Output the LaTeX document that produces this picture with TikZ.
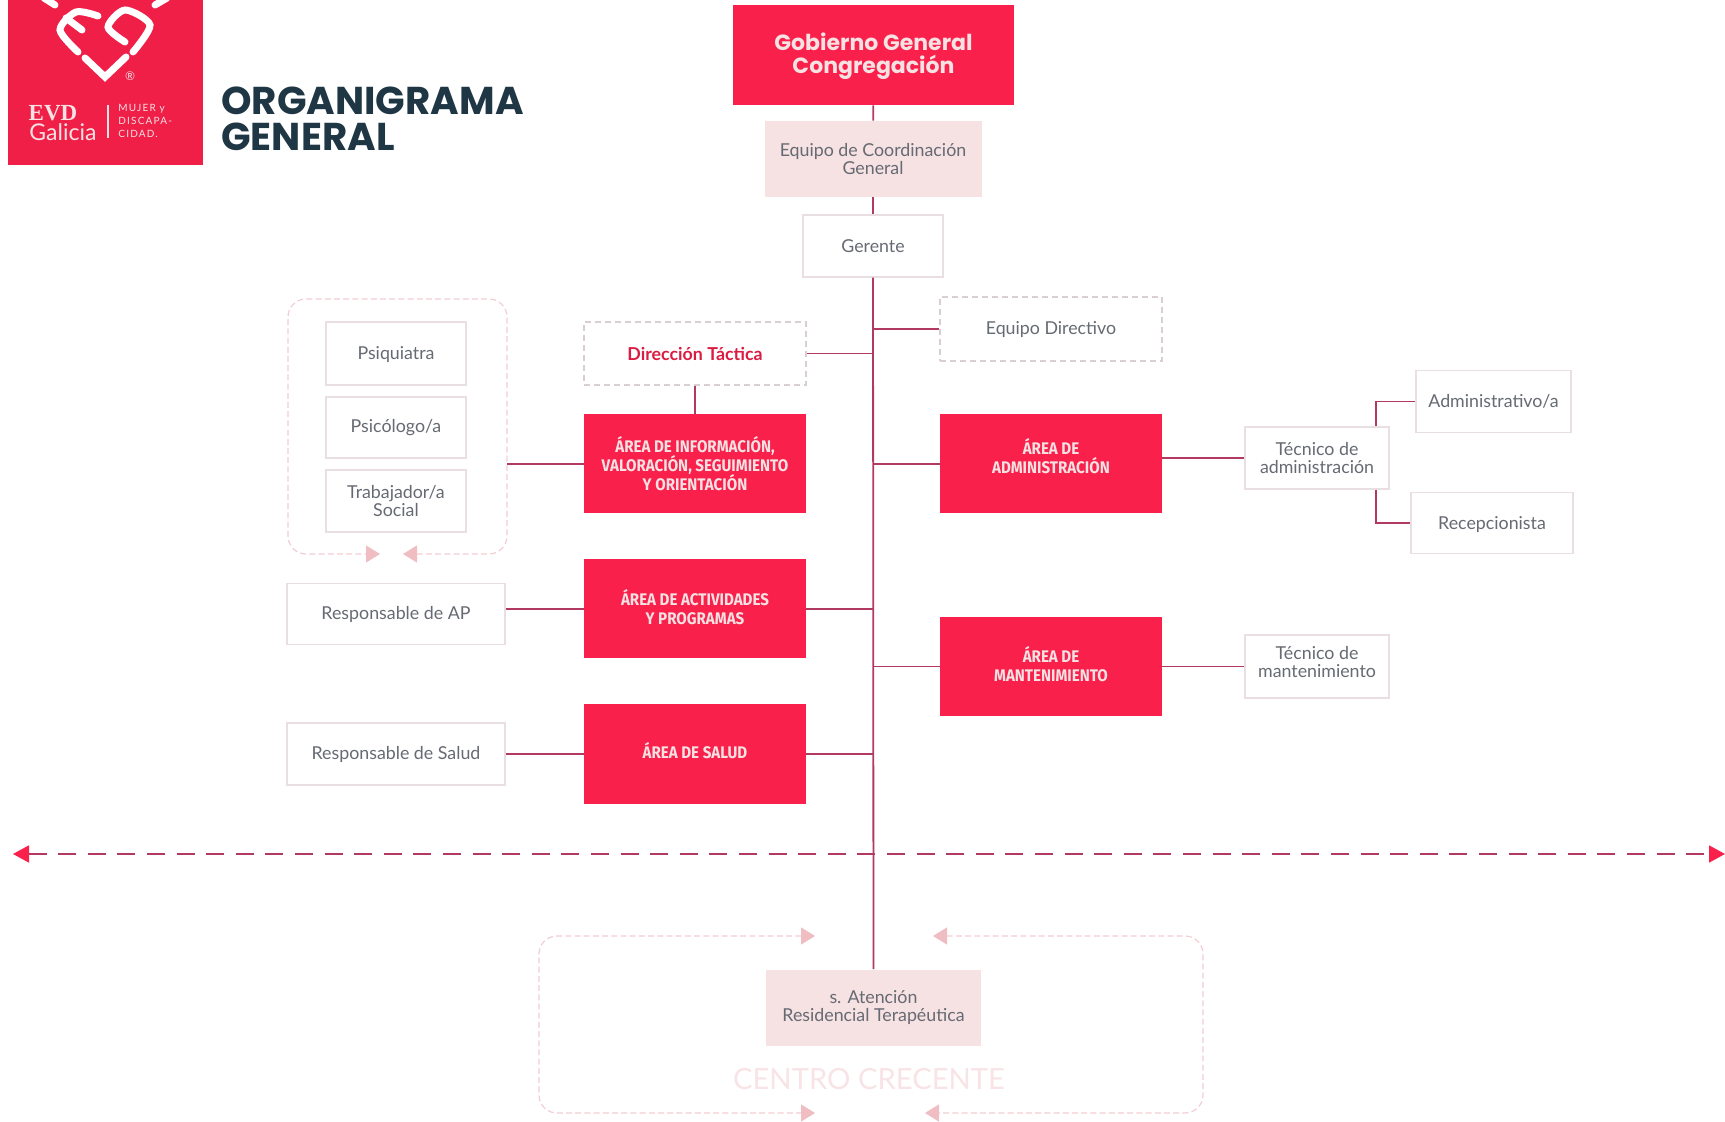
\documentclass[tikz,border=0pt]{standalone}
\usepackage{fontspec}
\setmainfont{Lato}
\newfontfamily\titlefont{Poppins}
\newfontfamily\areafont[FakeStretch=0.9]{Fira Sans}
\newfontfamily\evdfont{Liberation Serif}
\newfontfamily\lemafont[LetterSpace=12]{Lato}
\usetikzlibrary{arrows.meta}
\definecolor{evdred}{HTML}{F9204B}
\definecolor{evdline}{HTML}{B23A60}
\definecolor{evdpale}{HTML}{F6E1E3}
\definecolor{evdframe}{HTML}{E9DFE1}
\definecolor{evddash}{HTML}{D9CFD2}
\definecolor{evdsoft}{HTML}{F2CDD3}
\definecolor{evdtip}{HTML}{EFBDC2}
\definecolor{evdgrey}{HTML}{666A72}
\definecolor{evdnavy}{HTML}{1F3644}
\definecolor{evdghost}{HTML}{F8E3E6}
\tikzset{>=latex,
basebox/.style={align=center, inner sep=0pt, text=evdgrey, font=\fontsize{8.9}{8.8}\selectfont},
whitebox/.style={basebox, draw=evdframe, fill=white, line width=.6pt},
palebox/.style={basebox, fill=evdpale},
tacbox/.style={basebox, draw=evddash, dash pattern=on 3pt off 2pt, line width=.6pt},
areabox/.style={align=center, inner sep=0pt, fill=evdred, text=evdpale, minimum width=111pt,
  minimum height=49.5pt, text depth=2.4pt, font=\areafont\bfseries\fontsize{8.4}{9.6}\selectfont},
link/.style={draw=evdline, line width=.9pt},
softline/.style={draw=evdsoft, line width=.6pt, dash pattern=on 3pt off 1.6pt, rounded corners=9pt,
  {Triangle[length=7pt,width=8.5pt,color=evdtip]}-{Triangle[length=7pt,width=8.5pt,color=evdtip]}},
logostroke/.style={draw=white, line width=3.5pt, line cap=round}
}
\begin{document}
\begin{tikzpicture}[x=.5pt, y=-.5pt]
\useasboundingbox (0,0) rectangle (1725,1122);
\clip (0,0) rectangle (1725,1122);
% logo
\fill[evdred!96!black] (8,0) rectangle (203,165);
\draw[logostroke] plot[smooth] coordinates {(98,16) (76,12) (60,30) (78,52)};
\draw[logostroke] (66,18) -- (82,30);
\draw[logostroke] plot[smooth] coordinates {(125,42) (108,27) (125,10) (150,25) (133,52)};
\draw[logostroke] (85,58) -- (105,77) -- (126,57);
\draw[logostroke] (44,-2) -- (55,5);
\draw[logostroke] (155,5) -- (167,-2);
\node[font=\fontsize{6}{6}\selectfont, text=evdpale, inner sep=0pt] (marca) at (130,76) {®};
\node[font=\evdfont\bfseries\fontsize{11.5}{12}\selectfont, text=evdpale, inner sep=0pt] (evd) at (53,113) {EVD};
\node[font=\fontsize{11.5}{12}\selectfont, text=evdpale, inner sep=0pt] (galicia) at (63,132) {Galicia};
\draw[evdpale, line width=.8pt] (108,105) -- (108,138);
\node[font=\lemafont\fontsize{5}{6.4}\selectfont, text=evdpale, align=left, anchor=west, inner sep=0pt] (lema) at (118,121) {MUJER y\\DISCAPA-\\CIDAD.};
% title
\node[font=\titlefont\bfseries\fontsize{19.4}{18.2}\selectfont, text=evdnavy, align=left, anchor=north west, inner sep=0pt] (titulo) at (221,86) {ORGANIGRAMA\\GENERAL};
% trunk
\node[areabox, minimum width=140.5pt, minimum height=50pt, text depth=2pt, font=\titlefont\bfseries\fontsize{11}{11.6}\selectfont] (gobierno) at (873.5,55) {Gobierno General\\Congregación};
\node[palebox, minimum width=108.5pt, minimum height=38pt] (equipocoord) at (873,159) {Equipo de Coordinación\\General};
\node[whitebox, minimum width=70pt, minimum height=31pt] (gerente) at (873,246) {Gerente};
\node[palebox, minimum width=107.5pt, minimum height=38pt] (atencion) at (873.5,1007.5) {s. Atención\\Residencial Terapéutica};
\draw[link] (gobierno) -- (equipocoord);
\draw[link] (equipocoord) -- (gerente);
\draw[link] (gerente) -- (atencion);
% left side
\node[tacbox, minimum width=111pt, minimum height=31.5pt, text=evdred!88!black, font=\bfseries\fontsize{8.9}{9}\selectfont] (dirtac) at (695,353.5) {Dirección Táctica};
\node[areabox, text depth=.3pt] (areainfo) at (695,464) {ÁREA DE INFORMACIÓN,\\VALORACIÓN, SEGUIMIENTO\\Y ORIENTACIÓN};
\node[areabox] (areaact) at (695,609) {ÁREA DE ACTIVIDADES\\Y PROGRAMAS};
\node[areabox, text depth=3.5pt] (areasalud) at (695,754) {ÁREA DE SALUD};
\node[whitebox, minimum width=70pt, minimum height=31.5pt, text depth=.8pt] (psiquiatra) at (396,353.5) {Psiquiatra};
\node[whitebox, minimum width=70pt, minimum height=30.5pt] (psicologo) at (396,427.5) {Psicólogo/a};
\node[whitebox, minimum width=70pt, minimum height=31pt] (trabajador) at (396,501) {Trabajador/a\\Social};
\node[whitebox, minimum width=109pt, minimum height=30.5pt] (respap) at (396,614) {Responsable de AP};
\node[whitebox, minimum width=109pt, minimum height=31pt] (respsalud) at (396,754) {Responsable de Salud};
\coordinate (grupotec) at (507,463);
\draw[softline] (403,554) -- (507,554) -- (507,299) -- (288,299) -- (288,554) -- (380,554);
\draw[link] (dirtac.south) -- (areainfo.north);
\draw[link] (dirtac.east) -- (dirtac.east -| gerente.south);
\draw[link] (areainfo.west) -- (areainfo.west -| grupotec);
\draw[link] (areaact.west) -- (respap.east |- areaact.west);
\draw[link] (areaact.east) -- (areaact.east -| gerente.south);
\draw[link] (areasalud.west) -- (respsalud.east);
\draw[link] (areasalud.east) -- (areasalud.east -| gerente.south);
% right side
\node[tacbox, minimum width=111pt, minimum height=32pt, text depth=.6pt] (eqdirectivo) at (1051,329) {Equipo Directivo};
\node[areabox, text depth=8pt] (areaadm) at (1051,464) {ÁREA DE\\ADMINISTRACIÓN};
\node[areabox] (areamant) at (1051,666.5) {ÁREA DE\\MANTENIMIENTO};
\node[whitebox, minimum width=72pt, minimum height=31pt] (tecadm) at (1317,458) {Técnico de\\administración};
\node[whitebox, minimum width=72pt, minimum height=31.5pt, text depth=4.5pt] (tecmant) at (1317,666.5) {Técnico de\\mantenimiento};
\node[whitebox, minimum width=77.5pt, minimum height=31pt] (administrativo) at (1493.5,401.5) {Administrativo/a};
\node[whitebox, minimum width=81pt, minimum height=30.5pt, text depth=0pt] (recepcion) at (1492,523) {Recepcionista};
\coordinate (codoadm) at (1376,458);
\draw[link] (eqdirectivo.west) -- (eqdirectivo.west -| gerente.south);
\draw[link] (areaadm.west) -- (areaadm.west -| gerente.south);
\draw[link] (areamant.west) -- (areamant.west -| gerente.south);
\draw[link] (tecadm.west) -- (tecadm.west -| areaadm.east);
\draw[link] (tecmant.west) -- (areamant.east);
\draw[link] (codoadm |- tecadm.north) |- (administrativo.west);
\draw[link] (codoadm |- tecadm.south) |- (recepcion.west);
% frontier
\coordinate (fronteraizq) at (13,854);
\coordinate (fronterader) at (1725,854);
\draw[link, dash pattern=on 9pt off 5.8pt, {Triangle[length=8pt,width=8.5pt,color=evdred]}-{Triangle[length=8pt,width=8.5pt,color=evdred]}] (fronteraizq) -- (fronterader);
% bottom group
\draw[softline] (815,936) -- (539,936) -- (539,1113) -- (815,1113);
\draw[softline] (933,936) -- (1203,936) -- (1203,1113) -- (925,1113);
\node[text=evdghost, font=\fontsize{14.6}{16}\selectfont, inner sep=0pt] (centro) at (869,1079) {CENTRO CRECENTE};
\end{tikzpicture}
\end{document}
